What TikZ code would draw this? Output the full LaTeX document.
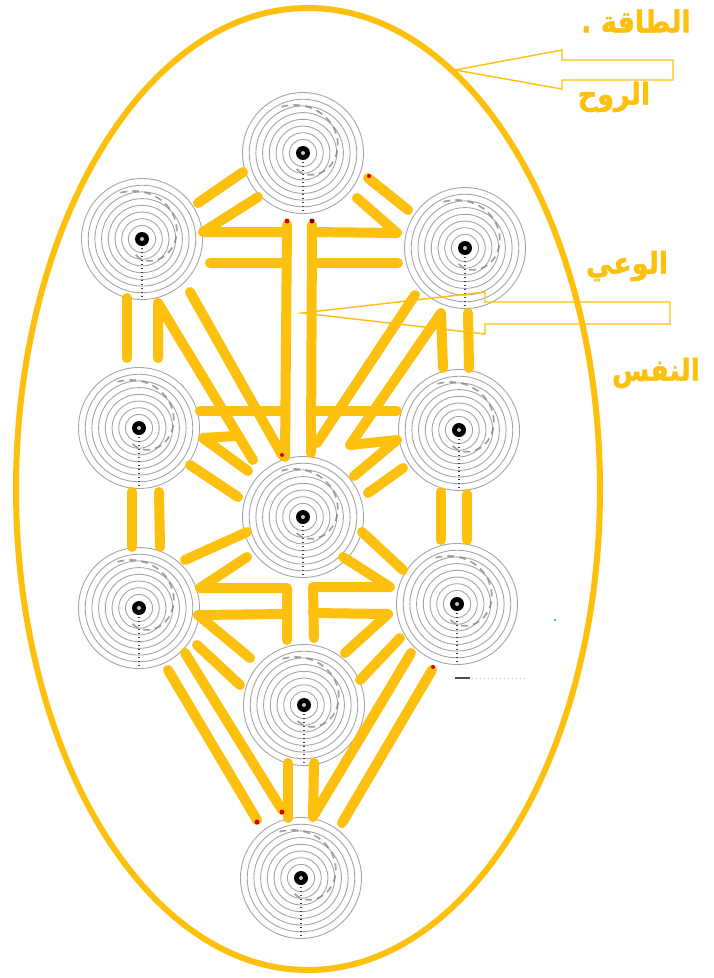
\documentclass[tikz,border=0pt]{standalone}
\usepackage{fontspec}
\TeXXeTstate=1
\newfontfamily\arabicfont[Script=Arabic,FakeBold=1.6]{DejaVu Sans}
\definecolor{gold}{RGB}{253,192,14}
\definecolor{ringgray}{RGB}{165,165,165}
\definecolor{spiralgray}{RGB}{130,130,130}
\tikzset{
  ringline/.style={draw=ringgray, line width=0.9pt},
  spiralline/.style={draw=spiralgray, line width=1.7pt, dash pattern=on 7pt off 5pt, opacity=0.75},
  dotline/.style={draw=black!75, line width=1.4pt, dash pattern=on 1.4pt off 2.6pt},
  gline/.style={draw=gold, line width=10pt, line cap=round, line join=round},
  arrowline/.style={draw=gold, line width=1.4pt, line join=miter},
  lab/.style={text=gold, inner sep=0pt, font=\arabicfont\bfseries\fontsize{30}{33}\selectfont},
  reddot/.style={fill=red!85!black},
}
\newcommand\sefira[3]{%
  \coordinate (#1) at (#2,#3);
  \foreach \rr in {60.5,53.8,47.1,40.4,33.7,27,20.3,13.6}{\draw[ringline] (#1) circle[radius=\rr];}
  \draw[spiralline] plot[domain=-115:125,samples=60] ({#2+(51-(\x+115)*36/240)*cos(\x)},{#3+(51-(\x+115)*36/240)*sin(\x)});
  \fill[black] (#1) circle[radius=7];
  \fill[gray!45] (#1) circle[radius=2];
  \draw[dotline] (#2,#3+9) -- (#2,#3+60);
}
\begin{document}
\begin{tikzpicture}[x=1pt,y=-1pt]
\useasboundingbox[fill=white] (0,0) rectangle (713,978);

% outer ellipse
\draw[gold, line width=6pt] (308,489) ellipse [x radius=292, y radius=481];

% sefirot
\sefira{keter}{303}{153}
\sefira{binah}{142}{239}
\sefira{chokmah}{465}{248}
\sefira{geburah}{139}{428}
\sefira{chesed}{459}{430}
\sefira{tiferet}{303}{517}
\sefira{hod}{139}{608}
\sefira{netzach}{457}{604}
\sefira{yesod}{304}{705}
\sefira{malkuth}{301}{878}

% paths (double yellow lines)
% upper triangle
\draw[gline] (243,172) -- (198,203);
\draw[gline] (258,197) -- (203,232) -- (287,232);
\draw[gline] (368,178) -- (408,210);
\draw[gline] (357,198) -- (397,233) -- (312,232);
\draw[gline] (210,263) -- (286,263);
\draw[gline] (312,263) -- (398,263);
\draw[gline] (287,225) -- (285,457);
\draw[gline] (312,225) -- (311,453);
% left pillar and diagonals to tiferet
\draw[gline] (127,298) -- (127,358);
\draw[gline] (158,358) -- (158,303) -- (253,460);
\draw[gline] (190,292) -- (282,455);
% right pillar and diagonals to tiferet
\draw[gline] (468,313) -- (469,368);
\draw[gline] (443,368) -- (441,313) -- (350,445) -- (397,440) -- (354,476);
\draw[gline] (415,295) -- (317,443);
% geburah - chesed, geburah/chesed - tiferet
\draw[gline] (200,411) -- (283,411);
\draw[gline] (313,411) -- (397,411);
\draw[gline] (235,436) -- (203,438) -- (248,471);
\draw[gline] (190,465) -- (238,497);
\draw[gline] (403,468) -- (368,493);
% geburah - hod, chesed - netzach
\draw[gline] (132,492) -- (132,547);
\draw[gline] (159,492) -- (160,547);
\draw[gline] (441,492) -- (441,540);
\draw[gline] (467,494) -- (467,540);
% lower left
\draw[gline] (247,532) -- (185,560);
\draw[gline] (247,557) -- (200,588) -- (287,588) -- (287,640);
\draw[gline] (287,614) -- (198,615) -- (250,658);
\draw[gline] (197,645) -- (240,685);
% lower right
\draw[gline] (362,532) -- (403,570);
\draw[gline] (343,557) -- (390,587) -- (313,587) -- (314,638);
\draw[gline] (313,613) -- (388,614) -- (345,653);
\draw[gline] (400,638) -- (360,680);
% to malkuth
\draw[gline] (168,670) -- (257,820);
\draw[gline] (185,653) -- (282,810);
\draw[gline] (288,763) -- (288,818);
\draw[gline] (314,763) -- (313,817);
\draw[gline] (411,653) -- (314,815);
\draw[gline] (432,670) -- (342,823);

% small red marks
\fill[reddot] (287,221) circle[radius=2.5];
\fill[red!50!black] (312,221) circle[radius=2.5];
\fill[reddot] (257,822) circle[radius=2.5];
\fill[reddot] (282,812) circle[radius=2.5];
\fill[reddot] (433,667) circle[radius=2];
\fill[reddot] (369,176) circle[radius=2];
\fill[reddot] (282,455) circle[radius=2];
% stray marks
\draw[black!70, line width=1.6pt] (455,678) -- (470,678);
\draw[gray!60, line width=1pt, dash pattern=on 1pt off 3pt] (472,678) -- (525,678);
\fill[green!60!black] (555,620) circle[radius=1];

% arrows
\draw[arrowline] (455,70) -- (562,50) -- (562,60) -- (673,60) -- (673,80) -- (562,80) -- (562,89) -- cycle;
\draw[arrowline] (302,313) -- (485,292) -- (485,302) -- (670,302) -- (670,324) -- (485,324) -- (485,334) -- cycle;

% labels
\node[lab] (taqa) at (636,21) {\scalebox{0.9}[1]{\beginR الطاقة .\endR}};
\node[lab] (ruh) at (614,97) {\scalebox{0.9}[1]{\beginR الروح\endR}};
\node[lab] (waie) at (627,266) {\scalebox{0.9}[1]{\beginR الوعي\endR}};
\node[lab] (nafs) at (656,373) {\scalebox{0.9}[1]{\beginR النفس\endR}};
\end{tikzpicture}
\end{document}
